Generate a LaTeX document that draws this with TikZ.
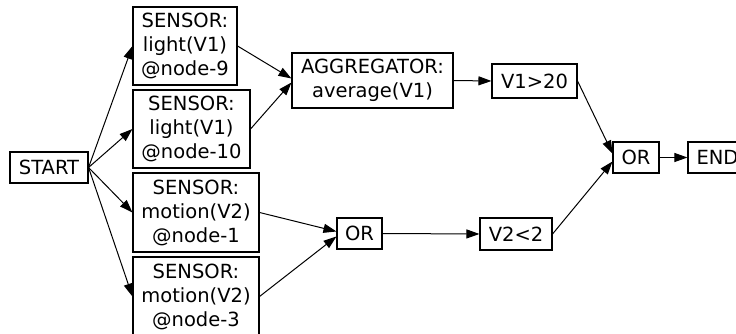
\documentclass[tikz,border=0pt]{standalone}
\usepackage{fontspec}
\setmainfont{DejaVu Sans}
\usetikzlibrary{arrows.meta}

\begin{document}
\begin{tikzpicture}[x=1pt, y=-1pt,
        box/.style={draw, line width=1.1pt, align=center, inner sep=0pt,
                font=\fontsize{19.5}{24}\selectfont},
        flow/.style={line width=1pt, -{Triangle[length=13pt, width=9pt]}}]
    \clip (0,0) rectangle (736,334);
    % sources
    \node[box, minimum width=78, minimum height=31] (start) at (49,167.5) {START};
    \node[box, minimum width=104, minimum height=78] (light9) at (185,46)
        {SENSOR:\\light(V1)\\@node-9};
    \node[box, minimum width=117, minimum height=78] (light10) at (191.5,129)
        {SENSOR:\\light(V1)\\@node-10};
    \node[box, minimum width=126, minimum height=79] (motion1) at (196,212.5)
        {SENSOR:\\motion(V2)\\@node-1};
    \node[box, minimum width=126, minimum height=79] (motion3) at (196,296.5)
        {SENSOR:\\motion(V2)\\@node-3};
    % operators
    \node[box, minimum width=161, minimum height=55] (agg) at (372.5,80.5)
        {AGGREGATOR:\\average(V1)};
    \node[box, minimum width=85, minimum height=34] (cond1) at (534.5,81) {V1>20};
    \node[box, minimum width=45, minimum height=31] (orlow) at (359.5,233.5) {OR};
    \node[box, minimum width=72, minimum height=32] (cond2) at (516,234) {V2<2};
    \node[box, minimum width=46, minimum height=31] (orend) at (636,157.5) {OR};
    \node[box, minimum width=59, minimum height=31] (end) at (717.5,157.5) {END};

    \draw[flow] (start.east) -- (light9.west);
    \draw[flow] (start.east) -- (light10.west);
    \draw[flow] (start.east) -- (motion1.west);
    \draw[flow] (start.east) -- (motion3.west);
    \draw[flow] (light9.east) -- ([yshift=2pt]agg.west);
    \draw[flow] (light10.east) -- ([yshift=-2pt]agg.west);
    \draw[flow] (agg.east) -- (cond1.west);
    \draw[flow] (motion1.east) -- ([yshift=2pt]orlow.west);
    \draw[flow] (motion3.east) -- ([yshift=-3pt]orlow.west);
    \draw[flow] (orlow.east) -- (cond2.west);
    \draw[flow] (cond1.east) -- ([yshift=4pt]orend.west);
    \draw[flow] (cond2.east) -- ([yshift=-4pt]orend.west);
    \draw[flow] (orend.east) -- (end.west);
\end{tikzpicture}
\end{document}
